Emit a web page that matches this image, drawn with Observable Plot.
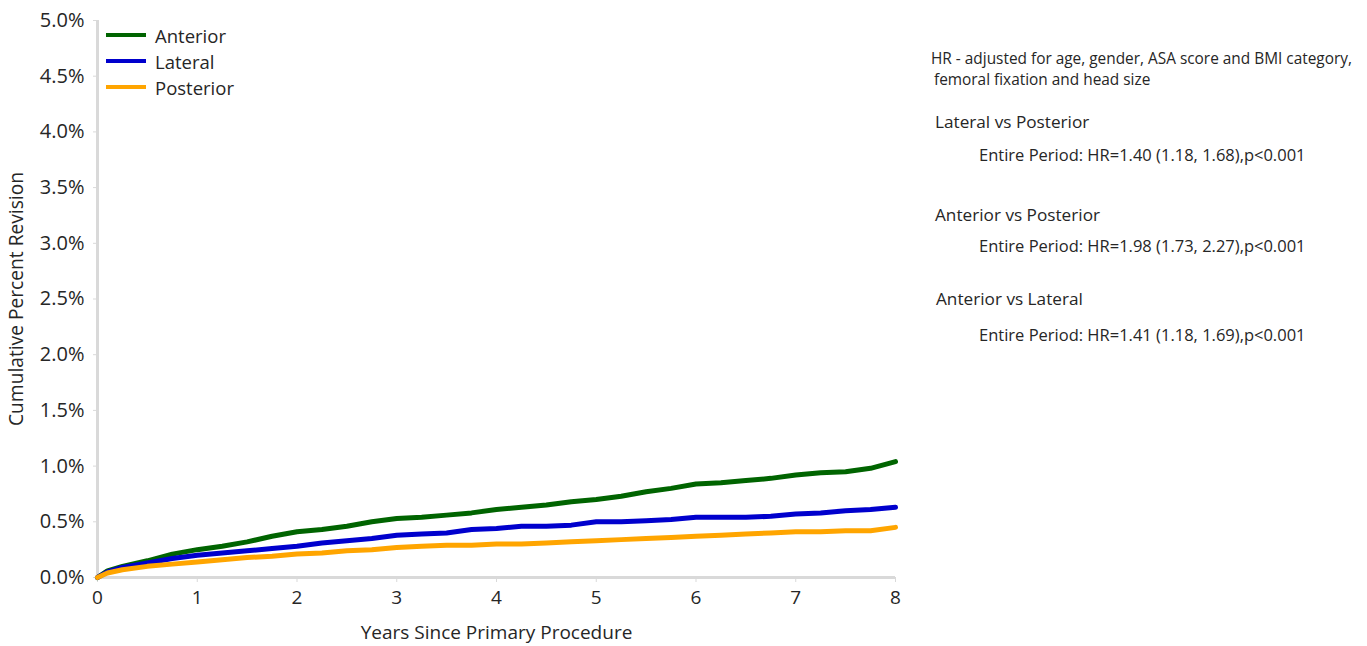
<!DOCTYPE html>
<html>
<head>
<meta charset="utf-8">
<script src="https://cdn.jsdelivr.net/npm/d3@7"></script>
<script src="https://cdn.jsdelivr.net/npm/@observablehq/plot@0.6"></script>
<style>
  body { margin: 0; background: #fff; }
  #wrap { position: relative; width: 1367px; height: 646px; font-family: "Open Sans", "Noto Sans", sans-serif; color: #262626; }
  .t { position: absolute; white-space: nowrap; }
  .leg { position: absolute; left: 106px; font-size: 18.5px; }
  .leg div { position: relative; height: 26px; line-height: 26px; }
  .leg span.sw { position: absolute; left: 0; top: 10px; width: 40px; height: 4px; }
  .leg span.lb { position: absolute; left: 49px; top: 0; }
</style>
</head>
<body>
<div id="wrap"></div>
<script>
// Years since primary procedure
const years = [0, 0.1, 0.25, 0.5, 0.75, 1, 1.25, 1.5, 1.75, 2, 2.25, 2.5, 2.75, 3, 3.25, 3.5, 3.75, 4, 4.25, 4.5, 4.75, 5, 5.25, 5.5, 5.75, 6, 6.25, 6.5, 6.75, 7, 7.25, 7.5, 7.75, 8];
// Cumulative percent revision (%)
const anterior  = [0, 0.06, 0.10, 0.15, 0.21, 0.25, 0.28, 0.32, 0.37, 0.41, 0.43, 0.46, 0.50, 0.53, 0.54, 0.56, 0.58, 0.61, 0.63, 0.65, 0.68, 0.70, 0.73, 0.77, 0.80, 0.84, 0.85, 0.87, 0.89, 0.92, 0.94, 0.95, 0.98, 1.04];
const lateral   = [0, 0.05, 0.09, 0.13, 0.17, 0.20, 0.22, 0.24, 0.26, 0.28, 0.31, 0.33, 0.35, 0.38, 0.39, 0.40, 0.43, 0.44, 0.46, 0.46, 0.47, 0.50, 0.50, 0.51, 0.52, 0.54, 0.54, 0.54, 0.55, 0.57, 0.58, 0.60, 0.61, 0.63];
const posterior = [0, 0.04, 0.07, 0.10, 0.12, 0.14, 0.16, 0.18, 0.19, 0.21, 0.22, 0.24, 0.25, 0.27, 0.28, 0.29, 0.29, 0.30, 0.30, 0.31, 0.32, 0.33, 0.34, 0.35, 0.36, 0.37, 0.38, 0.39, 0.40, 0.41, 0.41, 0.42, 0.42, 0.45];

const seriesNames = ["Anterior", "Lateral", "Posterior"];
const seriesColors = ["#006400", "#0000CD", "#FFA500"];
const xTicks = [0, 1, 2, 3, 4, 5, 6, 7, 8];
const yTicks = [0, 0.5, 1, 1.5, 2, 2.5, 3, 3.5, 4, 4.5, 5];

const annotations = [
  {text: "HR - adjusted for age, gender, ASA score and BMI category,", left: 931, top: 48, size: 15.4},
  {text: "femoral fixation and head size", left: 934, top: 69, size: 15.4},
  {text: "Lateral vs Posterior", left: 935, top: 110, size: 17.2},
  {text: "Entire Period: HR=1.40 (1.18, 1.68),p<0.001", left: 979, top: 143, size: 16.5},
  {text: "Anterior vs Posterior", left: 935, top: 203, size: 17.2},
  {text: "Entire Period: HR=1.98 (1.73, 2.27),p<0.001", left: 979, top: 234, size: 16.5},
  {text: "Anterior vs Lateral", left: 936, top: 287, size: 17.2},
  {text: "Entire Period: HR=1.41 (1.18, 1.69),p<0.001", left: 979, top: 323, size: 16.5}
];

const values = [anterior, lateral, posterior];
const data = [];
seriesNames.forEach((s, i) => years.forEach((x, j) => data.push({series: s, x, y: values[i][j]})));

const chart = Plot.plot({
  width: 1367,
  height: 646,
  marginLeft: 97,
  marginRight: 472,
  marginTop: 20,
  marginBottom: 69,
  style: {fontFamily: "'Open Sans', 'Noto Sans', sans-serif", fontSize: "17px", color: "#262626", background: "#fff"},
  x: {domain: [0, 8]},
  y: {domain: [0, 5]},
  color: {domain: seriesNames, range: seriesColors},
  marks: [
    Plot.axisX({ticks: xTicks, tickFormat: d => String(d), tickSize: 5, tickPadding: 8, stroke: "#d9d9d9", fontSize: 19, label: null}),
    Plot.axisX({ticks: [], fontSize: 19, label: "Years Since Primary Procedure", labelAnchor: "center", labelArrow: "none", labelOffset: 61}),
    Plot.axisY({ticks: yTicks, tickFormat: d => d.toFixed(1) + "%", tickSize: 4, tickPadding: 9, stroke: "#d9d9d9", fontSize: 20, label: null}),
    Plot.axisY({ticks: [], fontSize: 19.2, label: "Cumulative Percent Revision", labelAnchor: "center", labelArrow: "none", labelOffset: 88}),
    Plot.ruleX([0], {stroke: "#d9d9d9", strokeWidth: 3}),
    Plot.ruleY([0], {stroke: "#d9d9d9", strokeWidth: 3}),
    Plot.line(data, {x: "x", y: "y", z: "series", stroke: "series", strokeWidth: 5, curve: "linear", strokeLinejoin: "round", strokeLinecap: "round"})
  ]
});

const wrap = document.getElementById("wrap");
wrap.appendChild(chart);

// legend
const leg = document.createElement("div");
leg.className = "leg";
leg.style.top = "23px";
seriesNames.forEach((s, i) => {
  const row = document.createElement("div");
  row.innerHTML = `<span class="sw" style="background:${seriesColors[i]}"></span><span class="lb">${s}</span>`;
  leg.appendChild(row);
});
wrap.appendChild(leg);

// annotations
annotations.forEach(a => {
  const d = document.createElement("div");
  d.className = "t";
  d.textContent = a.text;
  d.style.left = a.left + "px";
  d.style.top = a.top + "px";
  d.style.fontSize = a.size + "px";
  wrap.appendChild(d);
});
</script>
</body>
</html>
